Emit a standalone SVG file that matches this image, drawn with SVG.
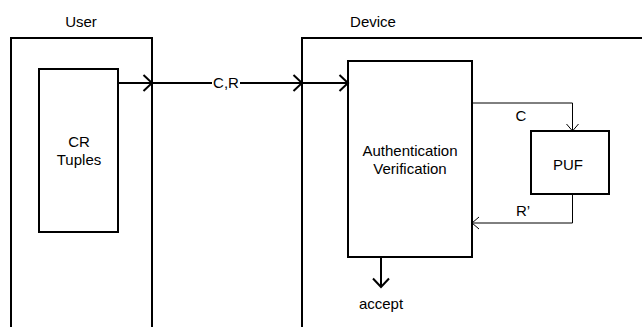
<svg xmlns="http://www.w3.org/2000/svg" width="642" height="327" viewBox="0 0 642 327">
<style>
  text { font-family: "Liberation Sans", Arial, sans-serif; font-size: 15px; fill: #000; text-anchor: middle; }
  .box { fill: #fff; stroke: #000; stroke-width: 2; }
  .thick { fill: none; stroke: #000; stroke-width: 2; }
  .thin { fill: none; stroke: #000; stroke-width: 1; }
</style>
<defs>
  <marker id="vThick" markerUnits="userSpaceOnUse" markerWidth="20" markerHeight="20" refX="10" refY="10" orient="auto" viewBox="0 0 20 20">
    <path d="M1.5,2 L10,10 L1.5,18" fill="none" stroke="#000" stroke-width="2"/>
  </marker>
  <marker id="vThin" markerUnits="userSpaceOnUse" markerWidth="16" markerHeight="16" refX="8" refY="8" orient="auto" viewBox="0 0 16 16">
    <path d="M1,2 L8,8 L1,14" fill="none" stroke="#000" stroke-width="1"/>
  </marker>
</defs>
<g id="user">
  <path class="thick" d="M11,328 V38 H152 V328"/>
  <text x="81" y="27">User</text>
</g>
<g id="device">
  <path class="thick" d="M302,328 V38 H643"/>
  <text x="373" y="27">Device</text>
</g>
<g id="cr-tuples">
  <rect class="box" x="39" y="69" width="79" height="163"/>
  <text x="79" y="147">CR</text>
  <text x="79" y="165">Tuples</text>
</g>
<g id="auth">
  <rect class="box" x="348" y="61" width="124" height="196"/>
  <text x="410" y="156">Authentication</text>
  <text x="410" y="174">Verification</text>
</g>
<g id="puf">
  <rect class="box" x="531" y="131" width="78" height="63"/>
  <text x="568" y="170">PUF</text>
</g>
<g id="connectors">
  <line class="thick" x1="118" y1="83" x2="152" y2="83" marker-end="url(#vThick)"/>
  <line class="thick" x1="152" y1="83" x2="302" y2="83" marker-end="url(#vThick)"/>
  <line class="thick" x1="302" y1="83" x2="348" y2="83" marker-end="url(#vThick)"/>
  <rect x="212" y="74" width="28" height="17" fill="#fff"/>
  <text x="226" y="88">C,R</text>
  <path class="thin" d="M472,103 H572.5 V131" marker-end="url(#vThin)"/>
  <text x="521" y="121">C</text>
  <path class="thin" d="M572.5,194 V223 H472" marker-end="url(#vThin)"/>
  <text x="523" y="216">R’</text>
  <line class="thick" x1="381" y1="257" x2="381" y2="287" marker-end="url(#vThick)"/>
  <text x="381" y="309">accept</text>
</g>
</svg>
